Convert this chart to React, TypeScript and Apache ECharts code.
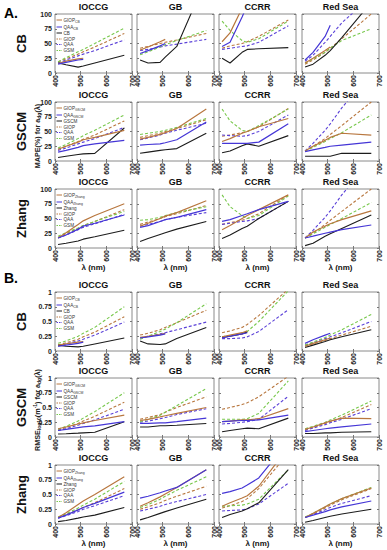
import React, { useEffect, useRef } from "react";
import * as echarts from "echarts";

// ---------- data ----------
const wavelengths = [412, 443, 490, 510, 555, 670];
const regions = ["IOCCG", "GB", "CCRR", "Red Sea"];
const assignments = ["CB", "GSCM", "Zhang"];
const xTickValues = [400, 500, 600, 700];
const mapeTicks = [0, 25, 50, 75, 100];
const rmseTicks = [0, 0.25, 0.5, 0.75, 1];
// rows in every panel: GIOP_alg, QAA_alg, alg, GIOP, QAA, GSM

// ---- A. MAPE (%) ----
const mapeCB_IOCCG = [
  [16, 20, 24, 25, null, null],
  [15, 18, 22, 23, null, null],
  [17, 14, 10, 12, 17, 30],
  [19, 24, 32, 36, 44, 67],
  [17, 22, 29, 32, 38, 56],
  [19, 26, 36, 40, 50, 76],
];
const mapeCB_GB = [
  [39, 44, 53, 57, null, null],
  [33, 38, 46, 50, null, null],
  [22, 17, 18, 27, 45, 160],
  [42, 45, 50, 52, 56, 67],
  [38, 40, 44, 46, 49, 57],
  [31, 36, 44, 48, 55, 72],
];
const mapeCB_CCRR = [
  [53, 68, 110, 130, null, null],
  [45, 52, 95, 115, null, null],
  [25, 17, 35, 40, 41, 43],
  [42, 46, 50, 53, 62, 90],
  [40, 42, 45, 46, 52, 80],
  [88, 72, 55, 52, 58, 88],
];
const mapeCB_RedSea = [
  [17, 25, 38, 44, null, null],
  [22, 35, 62, 81, null, null],
  [10, 15, 30, 38, 60, 120],
  [15, 22, 35, 42, 58, 100],
  [20, 30, 52, 62, 85, 130],
  [17, 24, 35, 42, 55, 75],
];
const mapeGSCM_IOCCG = [
  [20, 25, 32, 36, 40, 52],
  [15, 18, 23, 26, 29, 35],
  [6, 8, 11, 12, 13, 56],
  [20, 25, 33, 37, 44, 68],
  [18, 22, 29, 32, 38, 57],
  [22, 28, 38, 43, 52, 78],
];
const mapeGSCM_GB = [
  [37, 40, 45, 48, 55, 88],
  [27, 28, 29, 31, 36, 66],
  [13, 15, 18, 19, 21, 47],
  [40, 43, 47, 50, 55, 70],
  [36, 39, 44, 47, 52, 64],
  [45, 47, 50, 52, 57, 72],
];
const mapeGSCM_CCRR = [
  [33, 38, 47, 50, 58, 72],
  [30, 30, 30, 30, 32, 63],
  [14, 17, 26, 29, 25, 43],
  [42, 44, 48, 50, 58, 89],
  [44, 43, 42, 43, 50, 78],
  [88, 68, 52, 50, 60, 88],
];
const mapeGSCM_RedSea = [
  [17, 25, 35, 40, 47, 44],
  [16, 19, 23, 25, 27, 32],
  [8, 8, 8, 8, 13, 13],
  [17, 25, 38, 45, 60, 100],
  [17, 30, 52, 63, 90, 150],
  [17, 23, 33, 38, 48, 78],
];
const mapeZhang_IOCCG = [
  [17, 26, 40, 46, 55, 75],
  [17, 22, 32, 37, 42, 56],
  [6, 8, 12, 15, 19, 30],
  [18, 24, 33, 38, 45, 65],
  [17, 22, 31, 35, 41, 57],
  [20, 26, 34, 38, 45, 62],
];
const mapeZhang_GB = [
  [37, 42, 50, 54, 60, 80],
  [35, 38, 45, 48, 52, 65],
  [11, 16, 23, 26, 32, 45],
  [40, 44, 50, 53, 58, 72],
  [37, 40, 45, 48, 52, 60],
  [47, 48, 52, 55, 60, 70],
];
const mapeZhang_CCRR = [
  [31, 38, 50, 55, 65, 90],
  [45, 48, 55, 58, 65, 79],
  [16, 22, 33, 37, 50, 79],
  [40, 43, 47, 50, 58, 90],
  [40, 42, 45, 46, 50, 79],
  [90, 70, 55, 50, 55, 88],
];
const mapeZhang_RedSea = [
  [17, 27, 37, 41, 48, 63],
  [17, 20, 25, 27, 31, 39],
  [4, 8, 20, 24, 33, 56],
  [17, 25, 40, 47, 62, 100],
  [17, 30, 52, 63, 90, 150],
  [17, 24, 35, 40, 50, 77],
];

// ---- B. RMSE log10 ----
const rmseCB_IOCCG = [
  [0.1, 0.12, 0.15, 0.16, null, null],
  [0.08, 0.1, 0.13, 0.15, null, null],
  [0.1, 0.08, 0.07, 0.08, 0.12, 0.22],
  [0.1, 0.14, 0.2, 0.24, 0.32, 0.58],
  [0.08, 0.12, 0.17, 0.2, 0.27, 0.49],
  [0.13, 0.17, 0.25, 0.3, 0.4, 0.75],
];
const rmseCB_GB = [
  [0.23, 0.25, 0.28, 0.3, null, null],
  [0.22, 0.24, 0.27, 0.29, null, null],
  [0.17, 0.12, 0.11, 0.12, 0.21, 0.4],
  [0.27, 0.3, 0.36, 0.4, 0.48, 0.69],
  [0.22, 0.25, 0.29, 0.31, 0.36, 0.49],
  [0.2, 0.25, 0.33, 0.37, 0.48, 0.8],
];
const rmseCB_CCRR = [
  [0.24, 0.27, 0.31, 0.34, null, null],
  [0.22, 0.25, 0.29, 0.31, null, null],
  [0.23, 0.25, 0.29, 0.32, null, null],
  [0.31, 0.34, 0.4, 0.45, 0.6, 1.05],
  [0.21, 0.21, 0.22, 0.24, 0.33, 0.7],
  [0.24, 0.26, 0.3, 0.33, 0.5, 1.02],
];
const rmseCB_RedSea = [
  [0.08, 0.13, 0.19, 0.22, null, null],
  [0.13, 0.19, 0.27, 0.3, null, null],
  [0.06, 0.1, 0.16, 0.19, 0.24, 0.36],
  [0.08, 0.12, 0.18, 0.21, 0.27, 0.42],
  [0.1, 0.14, 0.21, 0.24, 0.31, 0.5],
  [0.1, 0.15, 0.23, 0.27, 0.36, 0.62],
];
const rmseGSCM_IOCCG = [
  [0.14, 0.17, 0.22, 0.24, 0.28, 0.37],
  [0.11, 0.13, 0.16, 0.17, 0.19, 0.26],
  [0.05, 0.055, 0.065, 0.07, 0.08, 0.26],
  [0.12, 0.16, 0.23, 0.27, 0.35, 0.59],
  [0.11, 0.14, 0.2, 0.23, 0.29, 0.47],
  [0.13, 0.18, 0.27, 0.32, 0.43, 0.75],
];
const rmseGSCM_GB = [
  [0.28, 0.3, 0.34, 0.36, 0.4, 0.5],
  [0.23, 0.23, 0.24, 0.24, 0.26, 0.32],
  [0.17, 0.17, 0.19, 0.19, 0.2, 0.23],
  [0.3, 0.33, 0.38, 0.42, 0.5, 0.68],
  [0.25, 0.27, 0.31, 0.33, 0.38, 0.48],
  [0.26, 0.3, 0.37, 0.42, 0.53, 0.82],
];
const rmseGSCM_CCRR = [
  [0.26, 0.27, 0.29, 0.29, 0.31, 0.48],
  [0.26, 0.27, 0.28, 0.28, 0.29, 0.37],
  [0.09, 0.11, 0.14, 0.15, 0.14, 0.32],
  [0.47, 0.5, 0.55, 0.58, 0.68, 1.03],
  [0.22, 0.23, 0.25, 0.26, 0.3, 0.69],
  [0.3, 0.3, 0.3, 0.31, 0.4, 0.95],
];
const rmseGSCM_RedSea = [
  [0.13, 0.17, 0.24, 0.27, 0.32, 0.31],
  [0.09, 0.11, 0.14, 0.15, 0.17, 0.22],
  [0.06, 0.06, 0.07, 0.07, 0.08, 0.09],
  [0.12, 0.16, 0.23, 0.26, 0.33, 0.55],
  [0.11, 0.15, 0.21, 0.24, 0.3, 0.48],
  [0.14, 0.18, 0.25, 0.29, 0.37, 0.61],
];
const rmseZhang_IOCCG = [
  [0.11, 0.19, 0.33, 0.39, 0.5, 0.8],
  [0.1, 0.15, 0.24, 0.28, 0.35, 0.54],
  [0.04, 0.06, 0.1, 0.12, 0.15, 0.28],
  [0.11, 0.16, 0.24, 0.28, 0.36, 0.6],
  [0.1, 0.14, 0.21, 0.25, 0.31, 0.48],
  [0.12, 0.17, 0.27, 0.32, 0.42, 0.72],
];
const rmseZhang_GB = [
  [0.3, 0.36, 0.46, 0.51, 0.62, 0.92],
  [0.44, 0.47, 0.53, 0.56, 0.62, 0.92],
  [0.07, 0.11, 0.18, 0.21, 0.27, 0.42],
  [0.25, 0.29, 0.36, 0.4, 0.47, 0.64],
  [0.22, 0.25, 0.3, 0.33, 0.38, 0.5],
  [0.28, 0.33, 0.42, 0.47, 0.57, 0.8],
];
const rmseZhang_CCRR = [
  [0.3, 0.36, 0.44, 0.48, 0.64, 1.3],
  [0.52, 0.55, 0.61, 0.66, 0.78, 1.4],
  [0.11, 0.16, 0.22, 0.26, 0.36, 0.92],
  [0.27, 0.31, 0.38, 0.43, 0.6, 1.2],
  [0.22, 0.23, 0.24, 0.26, 0.34, 0.69],
  [0.3, 0.31, 0.32, 0.34, 0.42, 0.92],
];
const rmseZhang_RedSea = [
  [0.11, 0.18, 0.29, 0.34, 0.43, 0.61],
  [0.11, 0.15, 0.21, 0.24, 0.29, 0.39],
  [0.03, 0.06, 0.11, 0.13, 0.17, 0.25],
  [0.11, 0.17, 0.27, 0.32, 0.41, 0.6],
  [0.11, 0.16, 0.24, 0.28, 0.35, 0.48],
  [0.12, 0.18, 0.29, 0.34, 0.43, 0.62],
];

const mapePanels = [
  [mapeCB_IOCCG, mapeCB_GB, mapeCB_CCRR, mapeCB_RedSea],
  [mapeGSCM_IOCCG, mapeGSCM_GB, mapeGSCM_CCRR, mapeGSCM_RedSea],
  [mapeZhang_IOCCG, mapeZhang_GB, mapeZhang_CCRR, mapeZhang_RedSea],
];
const rmsePanels = [
  [rmseCB_IOCCG, rmseCB_GB, rmseCB_CCRR, rmseCB_RedSea],
  [rmseGSCM_IOCCG, rmseGSCM_GB, rmseGSCM_CCRR, rmseGSCM_RedSea],
  [rmseZhang_IOCCG, rmseZhang_GB, rmseZhang_CCRR, rmseZhang_RedSea],
];

// ---------- styling / layout ----------
const FONT = "'Liberation Sans', Arial, sans-serif";
const BROWN = "#b8773f";
const BLUE = "#4536d6";
const BLUE_D = "#5a40d8";
const BLACK = "#1c1c1c";
const GREEN = "#78c84c";
const STYLES = [
  { color: BROWN, dash: null, width: 1.2 },
  { color: BLUE, dash: null, width: 1.2 },
  { color: BLACK, dash: null, width: 1.1 },
  { color: BROWN, dash: [3, 2], width: 1.1 },
  { color: BLUE_D, dash: [3, 2], width: 1.1 },
  { color: GREEN, dash: [3, 2], width: 1.1 },
];
const DRAW_ORDER = [3, 4, 5, 2, 0, 1];
const COL_LEFT = [55, 137, 219, 302];
const COL_W = 77;
const ROW_TOP = [14, 102, 189, 292, 378, 465];
const ROW_H = 59;

function seriesNames(alg: string) {
  return ["GIOP_" + alg, "QAA_" + alg, alg, "GIOP", "QAA", "GSM"];
}

function buildOption() {
  const grid: any[] = [];
  const xAxis: any[] = [];
  const yAxis: any[] = [];
  const series: any[] = [];
  const graphic: any[] = [];

  const sections = [mapePanels, rmsePanels];
  sections.forEach((panels, s) => {
    const ticks = s === 0 ? mapeTicks : rmseTicks;
    const yMax = ticks[ticks.length - 1];
    const yInt = ticks[1] - ticks[0];
    panels.forEach((row, r) => {
      const top = ROW_TOP[s * 3 + r];
      const alg = assignments[r];
      const names = seriesNames(alg);
      row.forEach((vals, c) => {
        const gi = grid.length;
        const left = COL_LEFT[c];
        grid.push({
          left,
          top,
          width: COL_W,
          height: ROW_H,
          show: true,
          backgroundColor: "#ffffff",
          borderColor: "#8a8a8a",
          borderWidth: 1,
        });
        const xBase = {
          gridIndex: gi,
          type: "value",
          min: xTickValues[0],
          max: xTickValues[xTickValues.length - 1],
          interval: 100,
          axisLine: { show: false },
          axisTick: { inside: true, length: 2, lineStyle: { color: "#777" } },
          splitLine: { show: false },
        };
        xAxis.push({
          ...xBase,
          position: "bottom",
          axisLabel: {
            rotate: 90,
            fontSize: 7,
            fontWeight: "bold",
            color: "#222",
            fontFamily: FONT,
            margin: 2,
          },
        });
        xAxis.push({ ...xBase, position: "top", axisLabel: { show: false } });
        const yBase = {
          gridIndex: gi,
          type: "value",
          min: 0,
          max: yMax,
          interval: yInt,
          axisLine: { show: false },
          axisTick: { inside: true, length: 2, lineStyle: { color: "#777" } },
          splitLine: { show: false },
        };
        yAxis.push({
          ...yBase,
          position: "left",
          axisLabel: {
            show: c === 0,
            fontSize: 7,
            fontWeight: "bold",
            color: "#222",
            fontFamily: FONT,
            margin: 3,
          },
        });
        yAxis.push({ ...yBase, position: "right", axisLabel: { show: false } });

        DRAW_ORDER.forEach((k) => {
          const st = STYLES[k];
          const data = wavelengths
            .map((w, i) => (vals[k][i] == null ? null : [w, vals[k][i]]))
            .filter((d) => d !== null);
          series.push({
            type: "line",
            name: names[k],
            xAxisIndex: 2 * gi,
            yAxisIndex: 2 * gi,
            data,
            symbol: "none",
            clip: true,
            silent: true,
            lineStyle: {
              color: st.color,
              width: st.width,
              type: st.dash ? st.dash : "solid",
            },
          });
        });

        // panel title
        graphic.push({
          type: "text",
          x: left + COL_W / 2,
          y: top - 7,
          style: {
            text: regions[c],
            fill: "#111",
            font: `bold 9px ${FONT}`,
            align: "center",
            textAlign: "center",
            verticalAlign: "middle",
            textVerticalAlign: "middle",
          },
        });
        // λ label under bottom rows
        if (r === 2) {
          graphic.push({
            type: "text",
            x: left + COL_W / 2,
            y: top + ROW_H + 19,
            style: {
              text: "λ (nm)",
              fill: "#111",
              font: `bold 8px ${FONT}`,
              align: "center",
              textAlign: "center",
              verticalAlign: "middle",
              textVerticalAlign: "middle",
            },
          });
        }
      });

      // row label
      graphic.push({
        type: "text",
        x: 21,
        y: top + ROW_H / 2,
        rotation: Math.PI / 2,
        style: {
          text: alg,
          fill: "#111",
          font: `bold 13px ${FONT}`,
          align: "center",
          textAlign: "center",
          verticalAlign: "middle",
          textVerticalAlign: "middle",
        },
      });

      // legend in IOCCG panel
      const offs = [6, 13, 19, 25, 30.5, 36.5];
      names.forEach((nm, k) => {
        const st = STYLES[k];
        const yy = top + offs[k];
        graphic.push({
          type: "line",
          shape: { x1: 56.5, y1: yy, x2: 62, y2: yy },
          style: {
            stroke: st.color,
            lineWidth: 1,
            lineDash: st.dash ? [1.5, 1] : null,
          },
          z: 10,
        });
        const parts = nm.split("_");
        const txt =
          parts.length > 1 ? `{m|${parts[0]}}{s|${parts[1]}}` : `{m|${parts[0]}}`;
        graphic.push({
          type: "text",
          x: 63.5,
          y: yy,
          z: 10,
          style: {
            text: txt,
            fill: "#333",
            align: "left",
            textAlign: "left",
            verticalAlign: "middle",
            textVerticalAlign: "middle",
            rich: {
              m: { fontSize: 4.6, fontFamily: FONT, fill: "#333", color: "#333", lineHeight: 6 },
              s: {
                fontSize: 3.4,
                fontFamily: FONT,
                fill: "#333",
                color: "#333",
                lineHeight: 6,
                padding: [3, 0, 0, 0],
              },
            },
          },
        });
      });
    });
  });

  // section labels
  graphic.push({
    type: "text",
    x: 4,
    y: 13,
    style: {
      text: "A.",
      fill: "#000",
      font: `bold 14px ${FONT}`,
      verticalAlign: "middle",
      textVerticalAlign: "middle",
    },
  });
  graphic.push({
    type: "text",
    x: 4,
    y: 278,
    style: {
      text: "B.",
      fill: "#000",
      font: `bold 14px ${FONT}`,
      verticalAlign: "middle",
      textVerticalAlign: "middle",
    },
  });

  // y-axis titles
  const richY = {
    t: { fontSize: 7.2, fontFamily: FONT, fontWeight: "bold", fill: "#222", color: "#222", lineHeight: 9 },
    s: { fontSize: 5, fontFamily: FONT, fontWeight: "bold", fill: "#222", color: "#222", lineHeight: 9, padding: [4, 0, 0, 0] },
    p: { fontSize: 5, fontFamily: FONT, fontWeight: "bold", fill: "#222", color: "#222", lineHeight: 9, padding: [0, 0, 4, 0] },
  };
  graphic.push({
    type: "text",
    x: 37,
    y: 136,
    rotation: Math.PI / 2,
    style: {
      text: "{t|MAPE(%) for a}{s|dg}{t|(λ)}",
      align: "center",
      textAlign: "center",
      verticalAlign: "middle",
      textVerticalAlign: "middle",
      rich: richY,
    },
  });
  graphic.push({
    type: "text",
    x: 37,
    y: 410,
    rotation: Math.PI / 2,
    style: {
      text: "{t|RMSE}{s|log10}{t|(m}{p|-1}{t|) for a}{s|dg}{t|(λ)}",
      align: "center",
      textAlign: "center",
      verticalAlign: "middle",
      textVerticalAlign: "middle",
      rich: richY,
    },
  });

  return {
    animation: false,
    backgroundColor: "#ffffff",
    grid,
    xAxis,
    yAxis,
    series,
    graphic,
  };
}

export default function App() {
  const ref = useRef<HTMLDivElement>(null);
  useEffect(() => {
    document.body.style.margin = "0";
    if (!ref.current) return;
    const chart = echarts.init(ref.current, undefined, { renderer: "svg" });
    chart.setOption(buildOption() as any);
    return () => {
      chart.dispose();
    };
  }, []);
  return <div ref={ref} style={{ width: 387, height: 550 }} />;
}
